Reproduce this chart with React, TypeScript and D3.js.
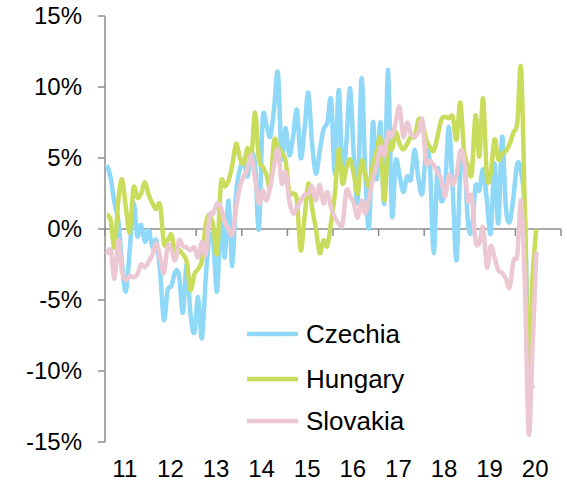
import React, { useEffect, useRef } from "react";
import * as d3 from "d3";

// monthly y/y change in %, Jan 2011 onwards
const czechia = [
  4.5, 3.6, 1.8, 0.6, -2.5, -4.4, -1.5, 1.8, -0.5, 0.3, -0.9, -0.1,
  -1.3, -0.8, -3.0, -6.4, -4.3, -4.0, -3.0, -3.3, -5.9, -2.5, -6.0, -7.3,
  -4.8, -7.7, -3.5, -0.5, -1.0, -4.4, 0.8, -2.0, 2.0, -2.6, 2.5, 4.2,
  4.8, 3.7, 5.3, 4.5, 0.0, 7.7, 7.3, 6.5, 8.5, 11.0, 5.0, 7.1,
  5.2, 6.5, 8.4, 5.0, 7.0, 9.6, 6.0, 3.9, 5.5, 7.0, 7.5, 9.1,
  3.9, 9.8, 4.0, 6.0, 9.9, 5.0, 2.0, 10.6, 4.0, 0.1, 7.5, 3.5,
  7.5, 1.8, 11.2, 1.0, 4.8, 3.8, 2.6, 3.7, 3.5, 5.6, 3.5, 2.5,
  5.4, 4.5, -1.7, 4.2, 2.0, 3.0, 7.2, 2.8, -2.2, 4.0, 5.1, 0.5,
  -0.1, 3.0, 2.7, 4.2, 2.0, -0.3, 4.6, 0.4, 6.5, 1.5, 0.5, 2.3,
  4.6, 4.0, 1.0, -9.8, -11.0,
];
const hungary = [
  1.0, 0.6, -1.3, 2.0, 3.5, 1.5, -0.2, 2.9, 2.2, 2.5, 3.3, 2.4,
  1.8, 1.4, 1.7, -1.0, -0.8, -0.4, -1.8, -1.5, -1.8, -2.3, -4.3, -3.2,
  -2.8, -2.2, 0.3, 1.0, 0.2, -1.7, 3.2, 3.0, 3.4, 4.5, 6.0, 5.0,
  4.6, 5.7, 5.0, 8.2, 4.9, 4.4, 3.8, 3.0, 6.2, 5.8, 5.4, 4.8,
  2.6, 2.5, 2.0, -1.5, 0.8, 3.2, 1.5, 0.0, -1.7, -0.8, -1.2, 0.5,
  2.5, 5.6, 3.2, 4.3, 4.9, 3.8, 2.5, 4.8, 3.8, 3.0, 4.5, 5.5,
  6.3, 2.0, 6.0, 5.6, 6.8, 6.0, 5.6, 6.0, 6.5, 6.5, 7.7, 7.5,
  6.3, 5.8, 5.5, 6.5, 7.7, 7.9, 7.8, 7.9, 6.3, 8.9, 5.5, 4.5,
  3.9, 8.0, 5.1, 9.2, 3.7, 3.9, 6.3, 4.9, 5.3, 5.5, 6.0, 6.8,
  7.5, 11.3, 1.0, -10.6, -3.5, 0.0,
];
const slovakia = [
  -1.8, -1.5, -3.5, -0.8, -3.0, -3.6, -3.3, -3.4, -3.2, -2.5, -2.7, -2.3,
  -1.8, -1.0, -2.0, -3.1, -1.2, -1.5, -2.2, -0.8, -1.2, -1.3, -1.5, -1.3,
  -2.0, -0.9, -1.8, 0.9, 1.1, 1.8, 1.5, 0.5, 0.0, -0.4, 1.5, 3.0,
  3.7, 4.2, 5.2, 3.5, 1.8, 2.7, 2.0, 3.0, 4.5, 5.6, 3.2, 4.0,
  2.0, 1.1, 1.5, 2.0, 2.4, 2.5, 3.0, 2.0, 3.1, 1.8, 2.6, 1.5,
  0.8, 0.4, 0.3, 2.7, 2.3, 1.8, 0.8, 2.0, 1.1, 2.2, 3.5, 4.5,
  5.8, 5.2, 6.8, 6.5, 7.5, 8.6, 6.5, 7.5, 6.7, 6.5, 6.8, 7.7,
  4.7, 4.8, 4.5, 4.0, 3.5, 2.3, 3.8, 3.1, 3.8, 5.5, 4.9, 2.0,
  2.3, -0.8, -1.0, 0.1, -2.7, -1.2, -2.0, -2.9, -3.1, -3.5, -4.1, -2.2,
  -1.8, 2.0, -4.0, -14.4, -8.5, -1.6,
];

const years = ["11", "12", "13", "14", "15", "16", "17", "18", "19", "20"];
const yTicks = [-15, -10, -5, 0, 5, 10, 15];

const seriesNames = ["Czechia", "Hungary", "Slovakia"];
const seriesColors = ["#8fd8f7", "#c9dc5c", "#ecc8d2"];

function drawChart(el: SVGSVGElement) {
  const width = 567;
  const height = 487;
  const svg = d3.select(el);
  svg.selectAll("*").remove();

  const font = "'Liberation Sans', Arial, sans-serif";
  const axisColor = "#8c8c8c";

  const x = d3.scaleLinear().domain([0, years.length * 12]).range([105, 561]);
  const y = d3.scaleLinear().domain([-15, 15]).range([442, 16]);

  // y axis
  svg
    .append("line")
    .attr("x1", x(0))
    .attr("x2", x(0))
    .attr("y1", y(15))
    .attr("y2", y(-15))
    .attr("stroke", axisColor)
    .attr("stroke-width", 1.5);

  yTicks.forEach((t) => {
    svg
      .append("line")
      .attr("x1", x(0) - 7)
      .attr("x2", x(0))
      .attr("y1", y(t))
      .attr("y2", y(t))
      .attr("stroke", axisColor)
      .attr("stroke-width", 1.5);
    svg
      .append("text")
      .attr("x", 82)
      .attr("y", y(t))
      .attr("dy", "0.35em")
      .attr("text-anchor", "end")
      .style("font-family", font)
      .style("font-size", "24px")
      .style("fill", "#000")
      .text(`${t}%`);
  });

  // x axis on the zero line
  svg
    .append("line")
    .attr("x1", x(0))
    .attr("x2", x(years.length * 12))
    .attr("y1", y(0))
    .attr("y2", y(0))
    .attr("stroke", axisColor)
    .attr("stroke-width", 1.5);

  d3.range(years.length + 1).forEach((k) => {
    svg
      .append("line")
      .attr("x1", x(k * 12))
      .attr("x2", x(k * 12))
      .attr("y1", y(0))
      .attr("y2", y(0) + 7)
      .attr("stroke", axisColor)
      .attr("stroke-width", 1.5);
  });

  years.forEach((yr, k) => {
    svg
      .append("text")
      .attr("x", x(k * 12 + 6) - 3)
      .attr("y", 477)
      .attr("text-anchor", "middle")
      .style("font-family", font)
      .style("font-size", "24px")
      .style("fill", "#000")
      .text(yr);
  });

  // lines
  const line = d3
    .line<number>()
    .x((_, i) => x(i + 0.5))
    .y((d) => y(d))
    .curve(d3.curveCardinal.tension(0));

  [czechia, hungary, slovakia].forEach((data, s) => {
    svg
      .append("path")
      .datum(data)
      .attr("d", line)
      .attr("fill", "none")
      .attr("stroke", seriesColors[s])
      .attr("stroke-width", 4.5)
      .attr("stroke-linejoin", "round");
  });

  // legend
  const legendY = [334, 379, 421];
  seriesNames.forEach((name, s) => {
    svg
      .append("line")
      .attr("x1", 247)
      .attr("x2", 298)
      .attr("y1", legendY[s])
      .attr("y2", legendY[s])
      .attr("stroke", seriesColors[s])
      .attr("stroke-width", 4.5);
    svg
      .append("text")
      .attr("x", 306)
      .attr("y", legendY[s])
      .attr("dy", "0.35em")
      .style("font-family", font)
      .style("font-size", "26px")
      .style("fill", "#000")
      .text(name);
  });

  svg.attr("width", width).attr("height", height);
}

export default function App() {
  const ref = useRef<SVGSVGElement>(null);

  useEffect(() => {
    if (ref.current) drawChart(ref.current);
  }, []);

  return (
    <svg
      ref={ref}
      width={567}
      height={487}
      style={{ position: "absolute", left: 0, top: 0, background: "#fff" }}
    />
  );
}
